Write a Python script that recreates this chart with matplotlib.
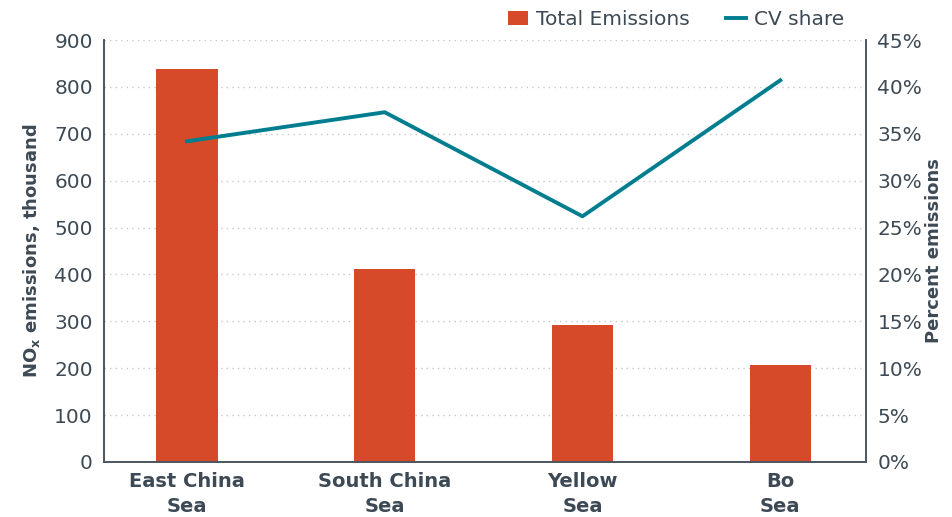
import matplotlib.pyplot as plt
import numpy as np
from matplotlib.ticker import FuncFormatter

plt.rcParams['font.family'] = ['DejaVu Sans']

# data
seas = ["East China\nSea", "South China\nSea", "Yellow\nSea", "Bo\nSea"]
total_emissions = [838, 411, 292, 207]   # NOx, thousand
cv_share = [34.2, 37.3, 26.2, 40.7]      # percent

text_col = "#3d4a55"
bar_col = "#d64a29"
line_col = "#007d8f"

fig = plt.figure(figsize=(9.53, 5.17), dpi=100)
ax = fig.add_axes([0.109, 0.1064, 0.8, 0.8162])
ax2 = ax.twinx()

x = np.arange(len(seas))
ax.bar(x, total_emissions, width=0.31, color=bar_col, label="Total Emissions", zorder=2)
ax2.plot(x, cv_share, color=line_col, lw=2.8, label="CV share", zorder=3)

ax.set_xlim(-0.42, 3.435)
ax.set_ylim(0, 900)
ax.set_yticks(range(0, 901, 100))
ax2.set_ylim(0, 45)
ax2.set_yticks(range(0, 46, 5))
ax2.yaxis.set_major_formatter(FuncFormatter(lambda v, p: f"{int(v)}%"))

ax.set_xticks(x)
ax.set_xticklabels(seas, fontsize=14, fontweight="bold", color=text_col, linespacing=1.4)
ax.grid(axis="y", linestyle=(0, (1, 3)), color="#c8c8c8", lw=1, zorder=0)
ax.set_axisbelow(True)

for a in (ax, ax2):
    a.tick_params(axis="both", length=0, labelsize=14.5, labelcolor=text_col)
    a.spines["top"].set_visible(False)
    for s in ("left", "right", "bottom"):
        a.spines[s].set_color("#4a5560")
        a.spines[s].set_linewidth(1.2)
ax.tick_params(axis="y", pad=8)
ax.tick_params(axis="x", pad=7, labelsize=14)
ax2.tick_params(axis="y", pad=8)

ax.set_ylabel("NO$_\\mathregular{x}$ emissions, thousand", fontsize=13, fontweight="bold",
              color=text_col, labelpad=9)
ax2.set_ylabel("Percent emissions", fontsize=13, fontweight="bold", color=text_col, labelpad=2)

h1, l1 = ax.get_legend_handles_labels()
h2, l2 = ax2.get_legend_handles_labels()
leg = fig.legend(h1 + h2, l1 + l2, ncol=2, frameon=False, fontsize=14.5,
                 loc="upper right", bbox_to_anchor=(0.905, 1.015),
                 handlelength=1.0, handletextpad=0.4, columnspacing=1.8)
for t in leg.get_texts():
    t.set_color(text_col)

fig.savefig("out.png", dpi=100)
